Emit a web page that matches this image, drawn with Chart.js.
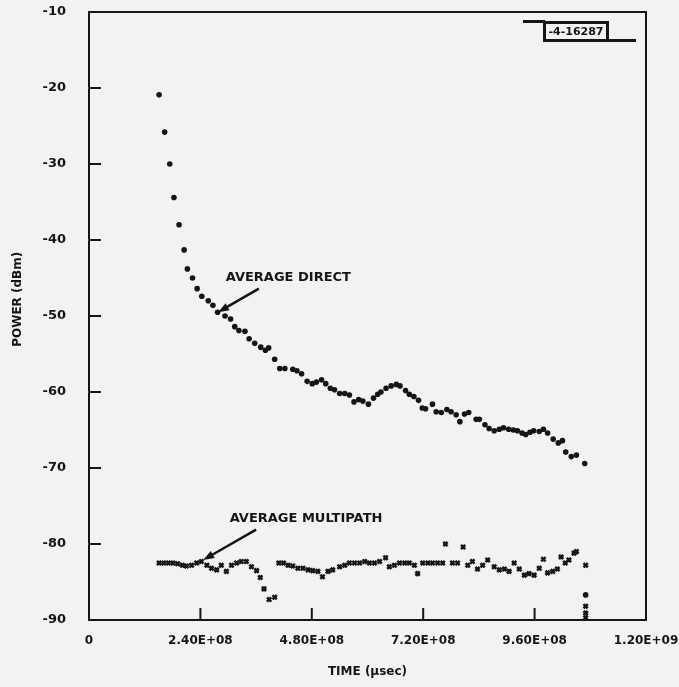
<!DOCTYPE html>
<html>
<head>
<meta charset="utf-8">
<script src="https://cdn.jsdelivr.net/npm/chart.js@4.4.1/dist/chart.umd.min.js"></script>
<style>
  html, body { margin: 0; padding: 0; background: #f2f2f0; }
  #wrap { position: relative; width: 679px; height: 687px; }
  #stamp {
    position: absolute; left: 543px; top: 21px; width: 60px; height: 15px;
    border: 3px solid #151515; color: #151515;
    font: bold 11px "DejaVu Sans", sans-serif; line-height: 15px; text-align: center;
  }
  .rule { position: absolute; height: 3px; background: #151515; }
</style>
</head>
<body>
<div id="wrap">
  <canvas id="powerChart"></canvas>
  <div class="rule" style="left:523px; top:20px; width:22px;"></div>
  <div class="rule" style="left:606px; top:39px; width:30px;"></div>
  <div id="stamp">-4-16287</div>
</div>
<script>
// time in units of 1e6 usec, power in dBm
const directTime = [151, 163, 174, 183, 194, 205, 212, 223, 233, 243,
  257, 267, 277, 293, 305, 314, 323, 336, 345, 357,
  370, 380, 387, 400, 411, 422, 439, 448, 458, 470,
  481, 490, 501, 510, 520, 529, 540, 551, 561, 571,
  581, 590, 602, 613, 622, 629, 640, 651, 662, 670,
  682, 690, 700, 710, 718, 725, 740, 748, 759, 771,
  780, 791, 799, 809, 818, 834, 841, 853, 862, 873,
  884, 893, 904, 914, 923, 933, 941, 950, 958, 970,
  979, 988, 1000, 1011, 1020, 1027, 1039, 1050, 1068, 1070];
const directPower = [-20.9, -25.8, -30.0, -34.4, -38.0, -41.3, -43.8, -45.0, -46.4, -47.4,
  -48.0, -48.6, -49.5, -50.0, -50.4, -51.4, -51.9, -52.0, -53.0, -53.6,
  -54.1, -54.5, -54.2, -55.7, -56.9, -56.9, -57.0, -57.2, -57.6, -58.6,
  -58.9, -58.7, -58.4, -58.9, -59.5, -59.7, -60.2, -60.2, -60.4, -61.3,
  -61.0, -61.2, -61.6, -60.8, -60.3, -60.0, -59.5, -59.2, -59.0, -59.2,
  -59.8, -60.3, -60.6, -61.1, -62.1, -62.2, -61.6, -62.6, -62.7, -62.3,
  -62.6, -63.0, -63.9, -62.9, -62.7, -63.6, -63.6, -64.3, -64.8, -65.1,
  -64.9, -64.7, -64.9, -65.0, -65.1, -65.4, -65.6, -65.3, -65.1, -65.2,
  -64.9, -65.4, -66.2, -66.7, -66.4, -67.9, -68.5, -68.3, -69.4, -86.7];

const multiTime = [151, 161, 171, 181, 191, 201, 210, 221, 232, 242,
  254, 264, 275, 285, 296, 307, 318, 328, 339, 350,
  361, 369, 377, 388, 400, 409, 419, 429, 439, 450,
  461, 472, 482, 493, 503, 515, 525, 540, 551, 561,
  572, 583, 594, 604, 615, 626, 639, 647, 658, 669,
  680, 690, 701, 708, 719, 730, 740, 751, 762, 768,
  783, 794, 806, 816, 826, 837, 848, 859, 873, 884,
  895, 905, 916, 927, 938, 948, 959, 970, 979, 988,
  999, 1009, 1017, 1026, 1034, 1045, 1050, 1070, 1070, 1070, 1070];
const multiPower = [-82.5, -82.5, -82.5, -82.5, -82.6, -82.8, -82.9, -82.8, -82.5, -82.3,
  -82.8, -83.2, -83.4, -82.8, -83.6, -82.8, -82.5, -82.3, -82.3, -83.0,
  -83.5, -84.4, -85.9, -87.3, -87.0, -82.5, -82.5, -82.8, -82.9, -83.2,
  -83.2, -83.4, -83.5, -83.6, -84.3, -83.6, -83.4, -83.0, -82.8, -82.5,
  -82.5, -82.5, -82.3, -82.5, -82.5, -82.3, -81.8, -83.0, -82.8, -82.5,
  -82.5, -82.5, -82.8, -83.9, -82.5, -82.5, -82.5, -82.5, -82.5, -80.0,
  -82.5, -82.5, -80.4, -82.8, -82.3, -83.3, -82.8, -82.1, -83.0, -83.4,
  -83.3, -83.6, -82.5, -83.3, -84.1, -83.9, -84.1, -83.2, -82.0, -83.8,
  -83.6, -83.3, -81.7, -82.5, -82.1, -81.2, -81.0, -82.8, -88.2, -89.1, -89.7];

const xTicks = [0, 2.4e8, 4.8e8, 7.2e8, 9.6e8, 1.2e9];
const yTicks = [-90, -80, -70, -60, -50, -40, -30, -20, -10];

const T_UNIT = 1e6;
const INK = '#151515';
const FONT = 'DejaVu Sans';

// labels with arrows, anchored in data units
const notes = [
  { text: 'AVERAGE DIRECT', at: [294.6e6, -44.9], from: [366e6, -46.4], to: [278e6, -49.5] },
  { text: 'AVERAGE MULTIPATH', at: [303e6, -76.7], from: [360e6, -78.1], to: [246e6, -82.1] }
];
const yTitle = { text: 'POWER (dBm)', at: -47.8 };

function toPoints(ts, ps) {
  return ts.map((t, i) => ({ x: t * T_UNIT, y: ps[i] }));
}

function sci(v) {
  if (v === 0) return '0';
  const e = Math.floor(Math.log10(v) + 1e-9);
  const m = v / Math.pow(10, e);
  return m.toFixed(2) + 'E+' + String(e).padStart(2, '0');
}

const framePlugin = {
  id: 'frame',
  afterDatasetsDraw(chart) {
    const { ctx, chartArea: a, scales } = chart;
    ctx.save();
    ctx.strokeStyle = INK;
    ctx.fillStyle = INK;
    ctx.lineWidth = 2;
    ctx.strokeRect(a.left, a.top, a.right - a.left, a.bottom - a.top);

    // inward tick marks
    ctx.beginPath();
    yTicks.forEach(v => {
      const py = scales.y.getPixelForValue(v);
      ctx.moveTo(a.left, py);
      ctx.lineTo(a.left + 12, py);
    });
    xTicks.forEach(v => {
      const px = scales.x.getPixelForValue(v);
      ctx.moveTo(px, a.bottom);
      ctx.lineTo(px, a.bottom - 12);
    });
    ctx.stroke();

    // vertical axis title
    ctx.font = 'bold 12px "' + FONT + '"';
    ctx.textAlign = 'center';
    ctx.textBaseline = 'middle';
    ctx.save();
    ctx.translate(18, scales.y.getPixelForValue(yTitle.at));
    ctx.rotate(-Math.PI / 2);
    ctx.fillText(yTitle.text, 0, 0);
    ctx.restore();

    // annotations
    ctx.font = 'bold 13px "' + FONT + '"';
    ctx.textAlign = 'left';
    notes.forEach(n => {
      ctx.fillText(n.text, scales.x.getPixelForValue(n.at[0]), scales.y.getPixelForValue(n.at[1]));
      const x1 = scales.x.getPixelForValue(n.from[0]), y1 = scales.y.getPixelForValue(n.from[1]);
      const x2 = scales.x.getPixelForValue(n.to[0]), y2 = scales.y.getPixelForValue(n.to[1]);
      const ang = Math.atan2(y2 - y1, x2 - x1);
      ctx.lineWidth = 2.5;
      ctx.beginPath();
      ctx.moveTo(x1, y1);
      ctx.lineTo(x2 - 8 * Math.cos(ang), y2 - 8 * Math.sin(ang));
      ctx.stroke();
      ctx.beginPath();
      ctx.moveTo(x2, y2);
      ctx.lineTo(x2 - 11 * Math.cos(ang) + 4 * Math.sin(ang), y2 - 11 * Math.sin(ang) - 4 * Math.cos(ang));
      ctx.lineTo(x2 - 11 * Math.cos(ang) - 4 * Math.sin(ang), y2 - 11 * Math.sin(ang) + 4 * Math.cos(ang));
      ctx.closePath();
      ctx.fill();
    });
    ctx.restore();
  }
};

const yTickFont = { family: FONT, weight: 'bold', size: 13 };
const xTickFont = { family: FONT, weight: 'bold', size: 12 };

new Chart(document.getElementById('powerChart'), {
  type: 'scatter',
  data: {
    datasets: [{
      label: 'AVERAGE DIRECT',
      data: toPoints(directTime, directPower),
      pointStyle: 'circle',
      pointRadius: 2.8,
      pointBorderWidth: 0,
      backgroundColor: INK,
      borderColor: INK,
      clip: false
    }, {
      label: 'AVERAGE MULTIPATH',
      data: toPoints(multiTime, multiPower),
      pointStyle: 'crossRot',
      pointRadius: 3,
      pointBorderWidth: 2.6,
      backgroundColor: INK,
      borderColor: INK,
      clip: false
    }]
  },
  options: {
    responsive: true,
    maintainAspectRatio: false,
    animation: false,
    layout: { padding: { left: 0, right: 33, top: 12, bottom: 0 } },
    plugins: { legend: { display: false }, tooltip: { enabled: false } },
    scales: {
      x: {
        type: 'linear',
        min: 0,
        max: 1.2e9,
        grid: { display: false },
        border: { display: false },
        afterBuildTicks: s => { s.ticks = xTicks.map(v => ({ value: v })); },
        afterFit: s => { s.height = 67; s.paddingLeft = 0; s.paddingRight = 0; },
        ticks: { color: INK, font: xTickFont, padding: 6, maxRotation: 0, callback: v => sci(v) },
        title: { display: true, text: 'TIME (µsec)', color: INK, font: { family: FONT, weight: 'bold', size: 12 }, padding: { top: 0, bottom: 8 } }
      },
      y: {
        type: 'linear',
        min: -90,
        max: -10,
        grid: { display: false },
        border: { display: false },
        afterBuildTicks: s => { s.ticks = yTicks.map(v => ({ value: v })); },
        afterFit: s => { s.width = 89; s.paddingTop = 0; s.paddingBottom = 0; },
        ticks: { color: INK, font: yTickFont, padding: 15, callback: v => String(v) }
      }
    }
  },
  plugins: [framePlugin]
});
</script>
</body>
</html>
